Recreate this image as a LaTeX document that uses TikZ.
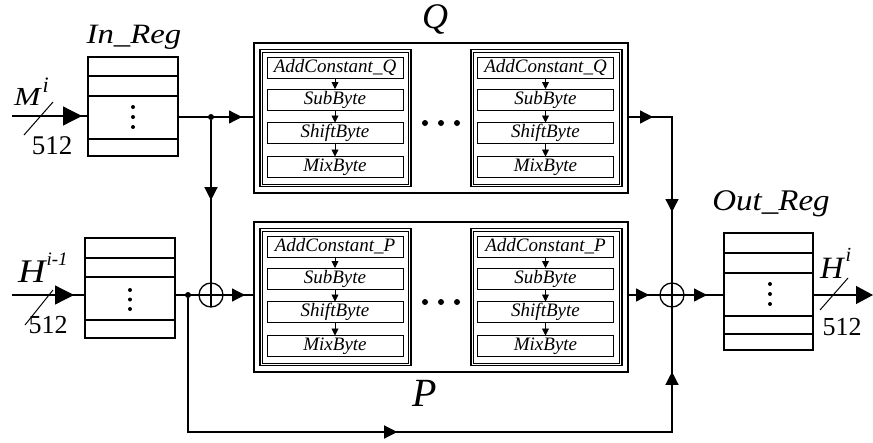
\documentclass[tikz,border=0pt]{standalone}
\usepackage{fontspec}
\setmainfont{Liberation Serif}
\usetikzlibrary{arrows.meta,decorations.markings,calc}

\newcommand{\fs}[1]{\fontsize{#1}{#1}\selectfont}

\tikzset{
  bigtip/.tip={Triangle[length=13pt,width=13pt]},
  iotip/.tip={Triangle[length=19pt,width=19pt]},
  wire/.style={line width=1.3pt},
  midtip/.style={postaction={decorate},
    decoration={markings, mark=at position #1 with {\arrow{bigtip}}}},
  iomidtip/.style={postaction={decorate},
    decoration={markings, mark=at position #1 with {\arrow{iotip}}}},
  regbox/.style={draw, line width=1.3pt, inner sep=0pt, outer sep=0pt},
  permbox/.style={draw, line width=1.6pt, inner sep=0pt, outer sep=0pt,
    minimum width=374pt, minimum height=150pt},
  roundbox/.style={draw, line width=1.1pt, inner sep=0pt, outer sep=0pt,
    minimum width=151pt, minimum height=137pt},
  innerline/.style={draw, line width=0.8pt},
  opbox/.style={draw, line width=0.9pt, inner sep=0pt, outer sep=0pt,
    minimum width=136pt, minimum height=21pt, font=\fs{19}\itshape},
  opflow/.style={line width=0.9pt, -{Triangle[length=7pt,width=7pt]}},
  xor/.style={circle, draw, line width=1.3pt, minimum size=24pt,
    inner sep=0pt, outer sep=0pt,
    path picture={\draw[line width=2pt]
      (path picture bounding box.north) -- (path picture bounding box.south)
      (path picture bounding box.west) -- (path picture bounding box.east);}},
  junction/.style={circle, fill, inner sep=0pt, minimum size=6pt},
  regdot/.style={circle, fill, inner sep=0pt, minimum size=4pt},
  bigdot/.style={circle, fill, inner sep=0pt, minimum size=6pt},
  buswidth/.style={line width=1pt},
  lbl/.style={inner sep=0pt, anchor=base},
  sig/.style={inner sep=0pt, anchor=base west},
}

\begin{document}
\begin{tikzpicture}[x=1pt, y=-1pt]
\useasboundingbox (0,0) rectangle (873,442);

% ---- registers ----
\node[regbox, minimum width=90pt, minimum height=99pt] (inreg) at (133,106.5) {};
\draw[line width=1.3pt] (88,76) -- (178,76) (88,96) -- (178,96) (88,139) -- (178,139);
\foreach \y in {107,117,127} \node[regdot] at (133,\y) {};
\node[lbl, font=\fs{28}\itshape] at (134,43) {\scalebox{1.17}[1]{In\_Reg}};

\node[regbox, minimum width=90pt, minimum height=100pt] (hreg) at (130,288) {};
\draw[line width=1.3pt] (85,258) -- (175,258) (85,277) -- (175,277) (85,320) -- (175,320);
\foreach \y in {290,299.5,309} \node[regdot] at (130,\y) {};

\node[regbox, minimum width=89pt, minimum height=117pt] (outreg) at (768.5,291.5) {};
\draw[line width=1.3pt] (724,253) -- (813,253) (724,273) -- (813,273)
  (724,316) -- (813,316) (724,334) -- (813,334);
\foreach \y in {284,294,304} \node[regdot] at (770,\y) {};
\node[lbl, font=\fs{30}\itshape] at (771,210) {\scalebox{1.1}[1]{Out\_Reg}};

% ---- permutations Q and P ----
\node[permbox] (Q) at (441,118) {};
\node[permbox] (P) at (441,297) {};
\node[lbl, font=\fs{36}\itshape] at (435,28) {Q};
\node[lbl, font=\fs{40}\itshape] at (425,406) {P};

\foreach \g/\top/\lab in {q/43/Q, p/222/P}{
  \foreach \c/\cx/\bx in {1/335/335.5, 2/545.5/546.5}{
    \node[roundbox] (\g\c) at (\bx,{\top+75}) {};
    \draw[innerline] ($(\g\c.north west)+(2.4,2.4)$) rectangle ($(\g\c.south east)+(-2.4,-2.4)$);
    \node[opbox] (\g\c a) at (\cx,{\top+24.5}) {AddConstant\_\lab};
    \node[opbox] (\g\c b) at (\cx,{\top+56.5}) {SubByte};
    \node[opbox] (\g\c c) at (\cx,{\top+90}) {ShiftByte};
    \node[opbox] (\g\c d) at (\cx,{\top+124}) {MixByte};
    \draw[opflow] (\g\c a) -- (\g\c b);
    \draw[opflow] (\g\c b) -- (\g\c c);
    \draw[opflow] (\g\c c) -- (\g\c d);
  }
  \foreach \x in {425,441,457} \node[bigdot] at (\x,{\top+80}) {};
}

% ---- xor gates ----
\node[xor] (xor1) at (211,295) {};
\node[xor] (xor2) at (672,295) {};

% ---- wiring ----
\coordinate (min) at (12,116);
\coordinate (hin) at (12,295);
\coordinate (hout) at (873,295);
\node[junction] (qsplit) at (211,117) {};
\node[junction] (hsplit) at (188,295) {};
\coordinate (qturn) at (672,117);
\coordinate (bl) at (188,432);
\coordinate (br) at (672,432);

\draw[wire, iomidtip=70pt] (min) -- (min -| inreg.west);
\draw[wire, midtip=64pt] (inreg.east |- qsplit) -- (Q.west |- qsplit);
\draw[wire, midtip=80pt] (qsplit) -- (xor1);

\draw[wire, iomidtip=62pt] (hin) -- (hin -| hreg.west);
\draw[wire] (hreg.east |- hin) -- (xor1);
\draw[wire, midtip=22pt] (xor1) -- (P.west |- hin);

\draw[wire, postaction={decorate}, decoration={markings,
    mark=at position 25pt with {\arrow{bigtip}},
    mark=at position 139pt with {\arrow{bigtip}}}]
  (Q.east |- qsplit) -- (qturn) -- (xor2);
\draw[wire, midtip=21pt] (P.east |- hin) -- (xor2);
\draw[wire, postaction={decorate}, decoration={markings,
    mark=at position 343pt with {\arrow{bigtip}},
    mark=at position 678pt with {\arrow{bigtip}}}]
  (hsplit) -- (bl) -- (br) -- (xor2);
\draw[wire, midtip=23pt] (xor2) -- (hin -| outreg.west);
\draw[wire, -{Triangle[length=17pt,width=18pt]}] (outreg.east |- hin) -- (hout);

% ---- bus widths and signal names ----
\draw[buswidth] (24,135) -- (53,102);
\node[lbl, font=\fs{27}] at (52,154) {512};
\node[sig, font=\fs{26}\itshape] at (14,105)
  {\scalebox{1.22}[1]{M}\kern2pt\raisebox{13pt}{\fs{22}i}};

\draw[buswidth] (25,325) -- (53,290);
\node[lbl, font=\fs{26}] at (48,333) {512};
\node[sig, font=\fs{33}\itshape] at (18,282)
  {\scalebox{1.15}[1]{H}\kern1pt\raisebox{17pt}{\fs{19}i-1}};

\draw[buswidth] (820,310) -- (848,278);
\node[lbl, font=\fs{26}] at (842,335) {512};
\node[sig, font=\fs{31}\itshape] at (820,278)
  {\scalebox{1.05}[1]{H}\kern2pt\raisebox{17pt}{\fs{20}i}};
\end{tikzpicture}
\end{document}
